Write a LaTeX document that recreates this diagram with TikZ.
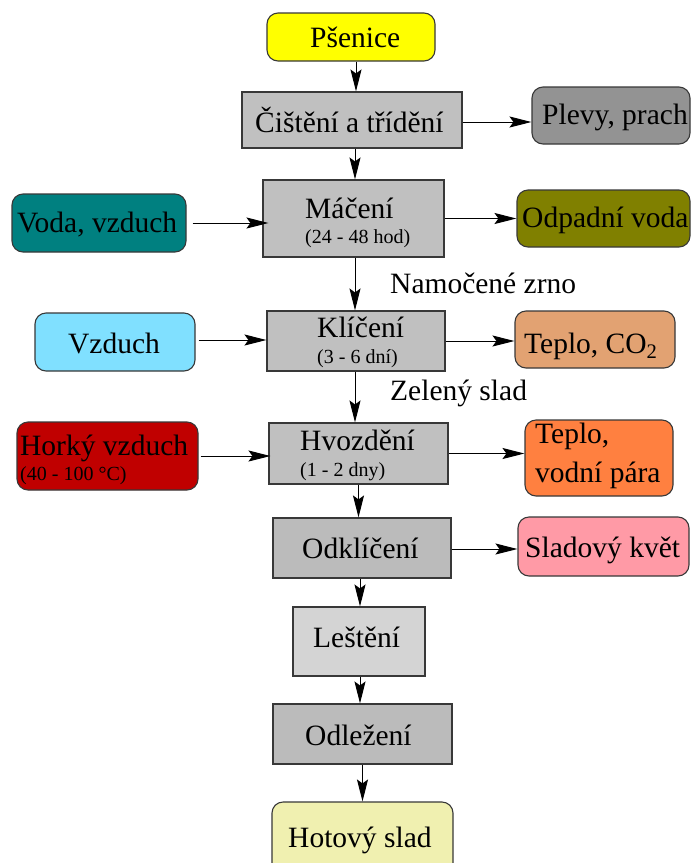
\documentclass[tikz,border=0pt]{standalone}
\usepackage{fontspec}
\setmainfont{Liberation Serif}
\usetikzlibrary{arrows.meta}
\definecolor{cgray}{HTML}{C0C0C0}
\definecolor{cgrayb}{HTML}{BBBBBB}
\definecolor{clight}{HTML}{D4D4D4}
\definecolor{cplevy}{HTML}{939393}
\definecolor{cteal}{HTML}{008080}
\definecolor{colive}{HTML}{808000}
\definecolor{csky}{HTML}{80E0FF}
\definecolor{ctan}{HTML}{E2A272}
\definecolor{cred}{HTML}{C00000}
\definecolor{corange}{HTML}{FF8040}
\definecolor{cpink}{HTML}{FF9AA6}
\definecolor{cyel}{HTML}{FFFF00}
\definecolor{cpale}{HTML}{F0F0B0}
\definecolor{cborder}{HTML}{383838}
\tikzset{
  box/.style={draw=cborder, line width=1.1pt, inner sep=0pt, minimum width=#1},
  proc/.style={box=#1, fill=cgray},
  round/.style={box=#1, rounded corners=11pt},
  txt/.style={anchor=base west, inner sep=0pt, font=\fontsize{29.5}{31}\selectfont},
  sub/.style={anchor=base west, inner sep=0pt, font=\fontsize{20}{22}\selectfont},
  arr/.style={draw=black, line width=1pt, arrows={-Stealth[length=22pt, width=11pt, inset=4pt]}}
}
\begin{document}
\begin{tikzpicture}[x=1pt,y=-1pt]
\useasboundingbox (0,0) rectangle (692,863);
\clip (0,0) rectangle (692,863);
% boxes
\node[round=168pt, fill=cyel, minimum height=48pt] (pse) at (351,37) {};
\node[proc=220pt, minimum height=56pt] (cis) at (352,120) {};
\node[round=158pt, fill=cplevy, minimum height=57pt] (plevy) at (611,115.5) {};
\node[proc=181pt, minimum height=77pt] (mac) at (353.5,218.5) {};
\node[round=174pt, fill=cteal, minimum height=58pt] (voda) at (99,223) {};
\node[round=173pt, fill=colive, minimum height=57pt] (odp) at (603.5,218.5) {};
\node[proc=178pt, minimum height=60pt] (kli) at (356,341) {};
\node[round=160pt, fill=csky, minimum height=58pt] (vzd) at (115,342) {};
\node[round=160pt, fill=ctan, minimum height=57pt] (tco) at (595,339.5) {};
\node[proc=179pt, minimum height=61pt] (hvo) at (358.5,453.5) {};
\node[round=181pt, fill=cred, minimum height=68pt] (hor) at (107.5,456) {};
\node[round=148pt, fill=corange, minimum height=76pt] (tvp) at (599,458) {};
\node[box=178pt, fill=cgrayb, minimum height=60pt] (odk) at (362,548) {};
\node[round=171pt, fill=cpink, minimum height=59pt] (sla) at (603.5,546.5) {};
\node[box=132pt, fill=clight, minimum height=69pt] (les) at (359,641.5) {};
\node[box=179pt, fill=cgrayb, minimum height=60pt] (odl) at (362.5,734) {};
\node[round=181pt, fill=cpale, minimum height=80pt] (hot) at (362.5,842) {};
% texts
\node[txt] (tpse) at (310,47) {Pšenice};
\node[txt] (tcis) at (255,132) {Čištění a třídění};
\node[txt] (tplevy) at (542,124) {Plevy, prach};
\node[txt] (tmac) at (305,218) {Máčení};
\node[sub] (smac) at (305,243) {(24 - 48 hod)};
\node[txt] (tvoda) at (17,232) {Voda, vzduch};
\node[txt] (todp) at (522,227) {Odpadní voda};
\node[txt] (lnam) at (390,293) {Namočené zrno};
\node[txt] (tkli) at (317,337) {Klíčení};
\node[sub] (skli) at (317,363) {(3 - 6 dní)};
\node[txt] (tvzd) at (68,353) {Vzduch};
\node[txt] (ttco) at (524,353) {Teplo, CO\textsubscript{2}};
\node[txt] (lzel) at (390,400) {Zelený slad};
\node[txt] (thvo) at (300,450) {Hvozdění};
\node[sub] (shvo) at (300,476) {(1 - 2 dny)};
\node[txt] (thor) at (20,455) {Horký vzduch};
\node[sub] (shor) at (20,480) {(40 - 100 °C)};
\node[txt] (ttvp1) at (535,443) {Teplo,};
\node[txt] (ttvp2) at (535,482) {vodní pára};
\node[txt] (todk) at (302,558) {Odklíčení};
\node[txt] (tsla) at (525,557) {Sladový květ};
\node[txt] (tles) at (313,647) {Leštění};
\node[txt] (todl) at (305,745) {Odležení};
\node[txt] (thot) at (288,847) {Hotový slad};
% vertical arrows
\draw[arr] ([xshift=5pt]pse.south) -- ([xshift=5pt]pse.south |- cis.north);
\draw[arr] ([xshift=3pt]cis.south) -- ([xshift=3pt]cis.south |- mac.north);
\draw[arr] ([xshift=1.5pt]mac.south) -- ([xshift=1.5pt]mac.south |- kli.north);
\draw[arr] ([xshift=-1pt]kli.south) -- ([xshift=-1pt]kli.south |- hvo.north);
\draw[arr] (hvo.south) -- (hvo.south |- odk.north);
\draw[arr] ([xshift=-2pt]odk.south) -- ([xshift=-2pt]odk.south |- les.north);
\draw[arr] ([xshift=1pt]les.south) -- ([xshift=1pt]les.south |- odl.north);
\draw[arr] (odl.south) -- (odl.south |- hot.north);
% horizontal arrows
\draw[arr] ([yshift=-2pt]cis.east) -- ([yshift=-2pt]cis.east -| plevy.west);
\draw[arr] ([xshift=6pt]voda.east) -- ([xshift=6pt]voda.east -| mac.west);
\draw[arr] (mac.east) -- (mac.east -| odp.west);
\draw[arr] ([xshift=3pt,yshift=2pt]vzd.east) -- ([yshift=2pt]vzd.east -| kli.west);
\draw[arr] (kli.east) -- (kli.east -| tco.west);
\draw[arr] ([xshift=2pt]hor.east) -- ([xshift=2pt]hor.east -| hvo.west);
\draw[arr] (hvo.east) -- (hvo.east -| tvp.west);
\draw[arr] ([yshift=-1pt]odk.east) -- ([yshift=-1pt]odk.east -| sla.west);
\end{tikzpicture}
\end{document}
